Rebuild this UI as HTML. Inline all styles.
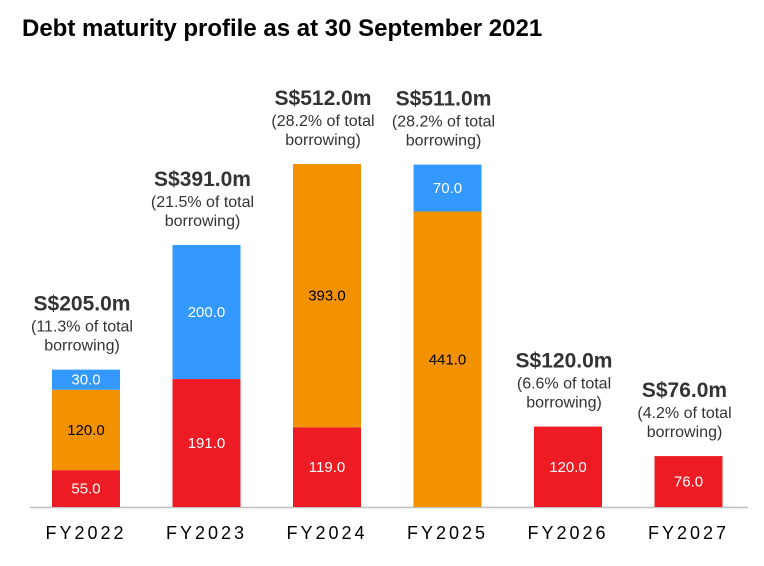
<!DOCTYPE html>
<html><head><meta charset="utf-8"><style>
body{margin:0;background:#fff;width:764px;height:561px;overflow:hidden;font-family:"Liberation Sans",Arial,sans-serif}
</style></head><body>
<svg id="chart" width="764" height="561" xmlns="http://www.w3.org/2000/svg" font-family="Liberation Sans, Arial, sans-serif">
<text x="22" y="36" font-size="24" font-weight="bold" fill="#000">Debt maturity profile as at 30 September 2021</text>
<line x1="30" y1="507.5" x2="748" y2="507.5" stroke="#bfbfbf" stroke-width="1.5"/>
<g id="marks"></g>
</svg>
<script>
const categories=["FY2022","FY2023","FY2024","FY2025","FY2026","FY2027"];
const redValues=[55,191,119,0,120,76];
const orangeValues=[120,0,393,441,0,0];
const blueValues=[30,200,0,70,0,0];
const totalLabels=["S$205.0m","S$391.0m","S$512.0m","S$511.0m","S$120.0m","S$76.0m"];
const pctLabels=["11.3%","21.5%","28.2%","28.2%","6.6%","4.2%"];
const ns="http://www.w3.org/2000/svg";
const g=document.getElementById('marks');
const base=507,scale=0.67,x0=86,step=120.5,bw=68;
const y=v=>base-v*scale;
const xc=i=>x0+i*step;
function mk(tag,attrs,txt){const e=document.createElementNS(ns,tag);for(const k in attrs)e.setAttribute(k,attrs[k]);if(txt!==undefined)e.textContent=txt;g.appendChild(e);return e;}
const series=[{v:redValues,c:"#ED1C24",t:"#fff",n:"red"},{v:orangeValues,c:"#F39200",t:"#000",n:"orange"},{v:blueValues,c:"#3399FF",t:"#fff",n:"blue"}];
categories.forEach((cat,i)=>{
  let acc=0;
  series.forEach(s=>{
    const v=s.v[i];if(!v)return;
    const r=mk('rect',{x:xc(i)-bw/2,y:y(acc+v),width:bw,height:v*scale,fill:s.c});
    
    
    const t=mk('text',{x:xc(i),y:y(acc+v/2)+5,'text-anchor':'middle','font-size':15,fill:s.t},v.toFixed(1));
    
    
    acc+=v;
  });
  const top=y(acc);
  const lx=xc(i)-4;
  const a=mk('text',{x:lx,y:top-59,'text-anchor':'middle','font-size':21,'font-weight':'bold',fill:'#333'},totalLabels[i]);
  
  
  const b=mk('text',{x:lx,y:top-38,'text-anchor':'middle','font-size':16,fill:'#333'},'('+pctLabels[i]+' of total');
  
  
  const c=mk('text',{x:lx,y:top-19,'text-anchor':'middle','font-size':16,fill:'#333'},'borrowing)');
  
  
  const d=mk('text',{x:xc(i),y:539,'text-anchor':'middle','font-size':18,fill:'#000','letter-spacing':'3'},cat);
  
  
});
</script>
</body></html>
